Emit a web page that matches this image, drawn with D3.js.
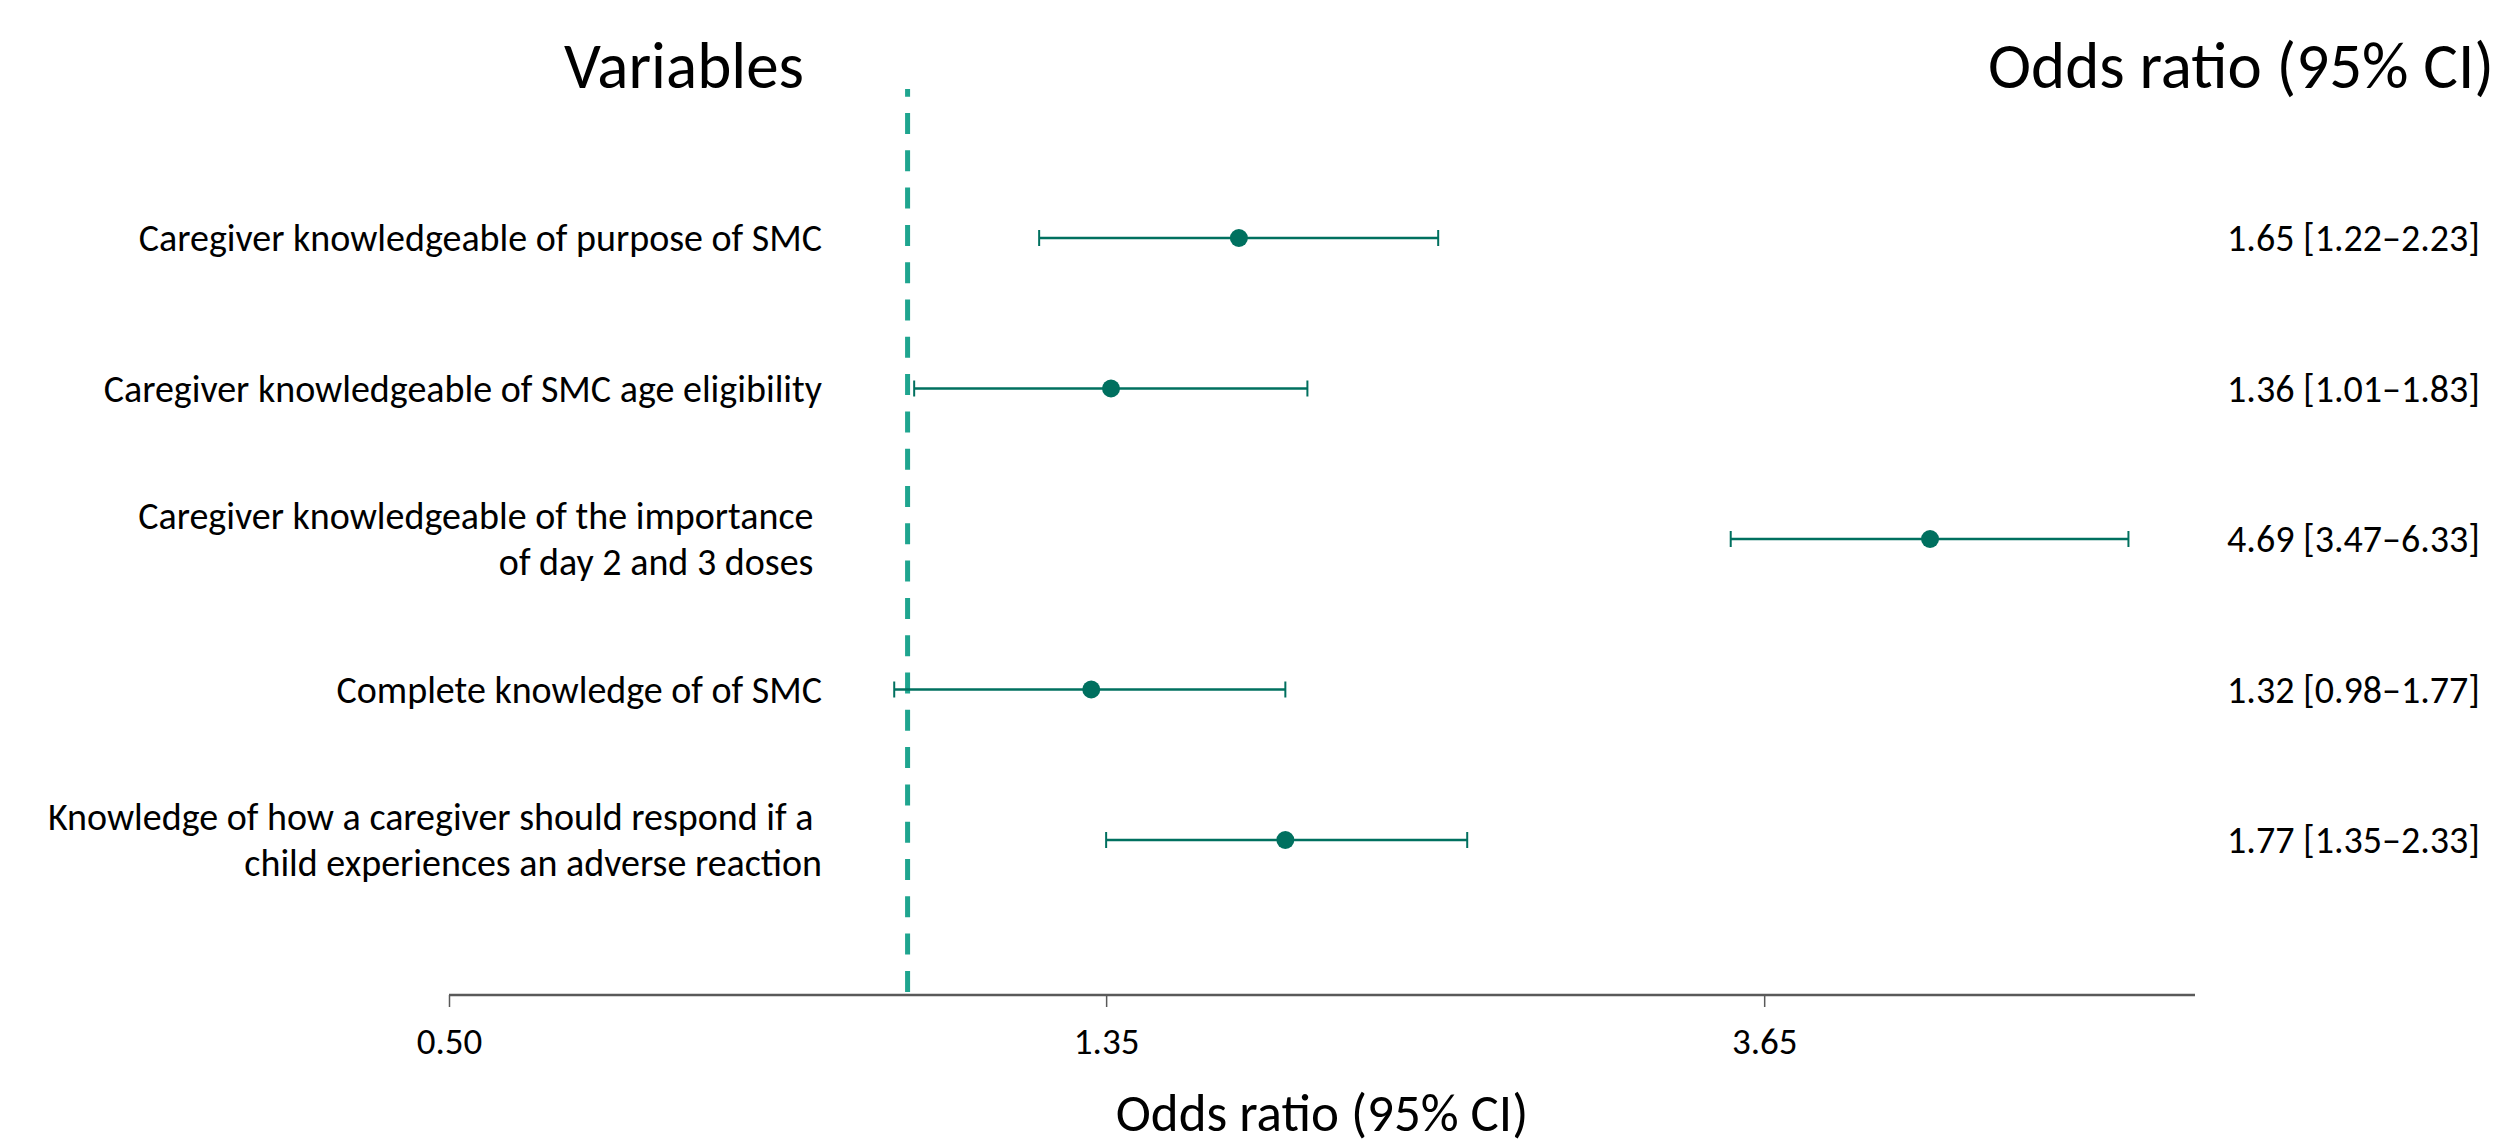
<!DOCTYPE html>
<html>
<head>
<meta charset="utf-8">
<script src="https://cdn.jsdelivr.net/npm/d3@7"></script>
<style>
  html, body { margin: 0; padding: 0; background: #ffffff; }
  svg { display: block; }
  text { font-family: Carlito, Calibri, Lato, "Open Sans", sans-serif; fill: #000; }
</style>
</head>
<body>
<svg id="chart" width="2518" height="1146"></svg>
<script>
// ---- data ----
const variables = [
  ["Caregiver knowledgeable of purpose of SMC"],
  ["Caregiver knowledgeable of SMC age eligibility"],
  ["Caregiver knowledgeable of the importance ", "of day 2 and 3 doses "],
  ["Complete knowledge of of SMC"],
  ["Knowledge of how a caregiver should respond if a ", "child experiences an adverse reaction"]
];
const oddsRatio = [1.65, 1.36, 4.69, 1.32, 1.77];
const ciLower   = [1.22, 1.01, 3.47, 0.98, 1.35];
const ciUpper   = [2.23, 1.83, 6.33, 1.77, 2.33];
const tickValues = [0.50, 1.35, 3.65];
const referenceLine = 1;
const axisDomain = [0.5, 7];
const leftTitle = "Variables";
const rightTitle = "Odds ratio (95% CI)";
const axisTitle = "Odds ratio (95% CI)";

// ---- layout ----
const svg = d3.select("#chart");
const axisY = 995;
const x = d3.scaleLog().domain(axisDomain).range([449, 2195]);
const rows = d3.range(variables.length);
const y = d3.scalePoint().domain(rows).range([238, 840]);

const markColor = "#00705f";
const refColor = "#1fa58f";
const axisColor = "#595959";

const labelSize = 38;
const tickSize = 37;
const titleSize = 65;
const axisTitleSize = 53;

// titles
svg.append("text").attr("x", 684).attr("y", 88)
  .attr("text-anchor", "middle").attr("font-size", titleSize).text(leftTitle);
svg.append("text").attr("x", 2494).attr("y", 88)
  .attr("text-anchor", "end").attr("font-size", titleSize).text(rightTitle);

// reference line
svg.append("line")
  .attr("x1", x(referenceLine)).attr("x2", x(referenceLine))
  .attr("y1", 89).attr("y2", axisY)
  .attr("stroke", refColor).attr("stroke-width", 5)
  .attr("stroke-dasharray", "21 16.3").attr("stroke-dashoffset", 13.3);

// axis
const axis = d3.axisBottom(x).tickValues(tickValues)
  .tickFormat(d3.format(".2f")).tickSize(12).tickPadding(21);
const gAxis = svg.append("g").attr("transform", `translate(0,${axisY})`).call(axis);
gAxis.select(".domain").attr("stroke", axisColor).attr("stroke-width", 2.5)
  .attr("d", `M${x.range()[0]},0H${x.range()[1]}`);
gAxis.selectAll(".tick line").attr("stroke", axisColor).attr("stroke-width", 1.5);
gAxis.selectAll(".tick text").attr("font-size", tickSize)
  .attr("font-family", null).attr("fill", "#000");

svg.append("text").attr("x", (x.range()[0] + x.range()[1]) / 2).attr("y", 1131)
  .attr("text-anchor", "middle").attr("font-size", axisTitleSize).text(axisTitle);

// row labels (one text element per line)
const lineGap = 46;
rows.forEach(i => {
  const lines = variables[i];
  lines.forEach((ln, j) => {
    svg.append("text").attr("class", "rowlabel")
      .attr("text-anchor", "end").attr("font-size", labelSize)
      .style("white-space", "pre")
      .attr("x", 822)
      .attr("y", y(i) + (j - (lines.length - 1) / 2) * lineGap)
      .attr("dy", "0.35em").text(ln);
  });
});

// CI whiskers
const g = svg.append("g");
g.selectAll("line.ci").data(rows).join("line").attr("class", "ci")
  .attr("x1", i => x(ciLower[i])).attr("x2", i => x(ciUpper[i]))
  .attr("y1", i => y(i)).attr("y2", i => y(i))
  .attr("stroke", markColor).attr("stroke-width", 2.5);
[ciLower, ciUpper].forEach(arr => {
  g.selectAll(null).data(rows).join("line")
    .attr("x1", i => x(arr[i])).attr("x2", i => x(arr[i]))
    .attr("y1", i => y(i) - 8).attr("y2", i => y(i) + 8)
    .attr("stroke", markColor).attr("stroke-width", 2);
});
g.selectAll("circle").data(rows).join("circle")
  .attr("cx", i => x(oddsRatio[i])).attr("cy", i => y(i)).attr("r", 9)
  .attr("fill", markColor);

// right column values
const f = d3.format(".2f");
svg.selectAll("text.val").data(rows).join("text").attr("class", "val")
  .attr("x", 2480).attr("y", i => y(i)).attr("dy", "0.35em")
  .attr("text-anchor", "end").attr("font-size", labelSize)
  .text(i => `${f(oddsRatio[i])} [${f(ciLower[i])}\u2013${f(ciUpper[i])}]`);
</script>
</body>
</html>
